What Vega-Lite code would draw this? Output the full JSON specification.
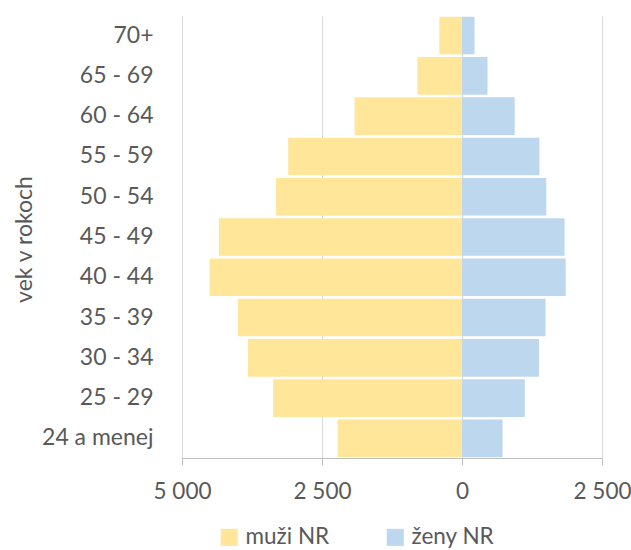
{
  "$schema": "https://vega.github.io/schema/vega-lite/v6.json",
  "autosize": {"type": "none"},
  "width": 420,
  "height": 442,
  "padding": {"left": 182, "top": 16, "right": 29, "bottom": 92},
  "background": "white",
  "config": {
    "view": {"stroke": null},
    "font": "Lato"
  },
  "data": {
    "values": [
      {"age": "70+", "sex": "muži NR", "value": -405},
      {"age": "70+", "sex": "ženy NR", "value": 224},
      {"age": "65 - 69", "sex": "muži NR", "value": -796},
      {"age": "65 - 69", "sex": "ženy NR", "value": 456},
      {"age": "60 - 64", "sex": "muži NR", "value": -1918},
      {"age": "60 - 64", "sex": "ženy NR", "value": 941},
      {"age": "55 - 59", "sex": "muži NR", "value": -3104},
      {"age": "55 - 59", "sex": "ženy NR", "value": 1382},
      {"age": "50 - 54", "sex": "muži NR", "value": -3321},
      {"age": "50 - 54", "sex": "ženy NR", "value": 1505},
      {"age": "45 - 49", "sex": "muži NR", "value": -4342},
      {"age": "45 - 49", "sex": "ženy NR", "value": 1831},
      {"age": "40 - 44", "sex": "muži NR", "value": -4508},
      {"age": "40 - 44", "sex": "ženy NR", "value": 1852},
      {"age": "35 - 39", "sex": "muži NR", "value": -4001},
      {"age": "35 - 39", "sex": "ženy NR", "value": 1491},
      {"age": "30 - 34", "sex": "muži NR", "value": -3821},
      {"age": "30 - 34", "sex": "ženy NR", "value": 1375},
      {"age": "25 - 29", "sex": "muži NR", "value": -3372},
      {"age": "25 - 29", "sex": "ženy NR", "value": 1122},
      {"age": "24 a menej", "sex": "muži NR", "value": -2221},
      {"age": "24 a menej", "sex": "ženy NR", "value": 724}
    ]
  },
  "mark": {"type": "bar"},
  "encoding": {
    "y": {
      "field": "age",
      "type": "nominal",
      "sort": ["70+", "65 - 69", "60 - 64", "55 - 59", "50 - 54", "45 - 49", "40 - 44", "35 - 39", "30 - 34", "25 - 29", "24 a menej"],
      "scale": {"paddingInner": 0.067, "paddingOuter": 0.02},
      "axis": {
        "title": "vek v rokoch",
        "titleFontSize": 23,
        "titleFontWeight": "normal",
        "titleColor": "#595959",
        "titleAngle": -90,
        "titleX": -158,
        "titleY": 223,
        "titleAlign": "center",
        "titleBaseline": "middle",
        "labelFontSize": 23,
        "labelColor": "#595959",
        "labelPadding": 29,
        "ticks": false,
        "domain": false,
        "grid": false
      }
    },
    "x": {
      "field": "value",
      "type": "quantitative",
      "scale": {"domain": [-5000, 2500], "nice": false, "zero": false},
      "axis": {
        "title": null,
        "values": [-5000, -2500, 0, 2500],
        "labelExpr": "replace(format(abs(datum.value), ','), ',', ' ')",
        "labelFontSize": 22.5,
        "labelColor": "#595959",
        "labelPadding": 15,
        "tickSize": 7,
        "tickColor": "#bfbfbf",
        "domainColor": "#bfbfbf",
        "grid": true,
        "gridColor": "#d9d9d9",
        "labelFlush": false
      }
    },
    "color": {
      "field": "sex",
      "type": "nominal",
      "scale": {"domain": ["muži NR", "ženy NR"], "range": ["#FFE699", "#BDD7EE"]},
      "legend": {
        "title": null,
        "orient": "none",
        "direction": "horizontal",
        "legendX": 36,
        "legendY": 510,
        "symbolType": "square",
        "symbolSize": 290,
        "symbolStrokeWidth": 0,
        "labelFontSize": 22.5,
        "labelColor": "#595959",
        "labelOffset": 5,
        "columnPadding": 54
      }
    }
  }
}
